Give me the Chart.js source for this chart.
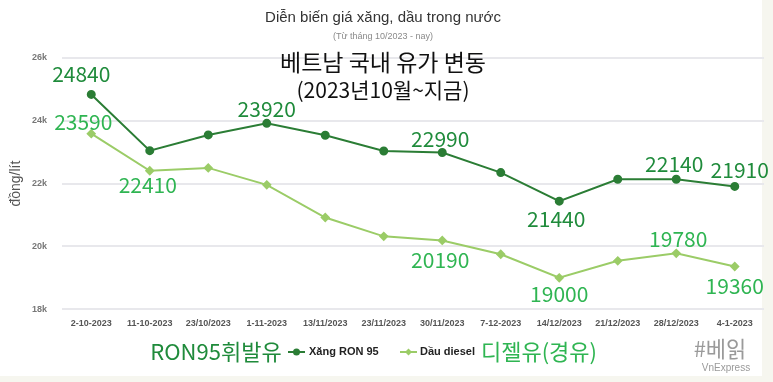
<!DOCTYPE html>
<html><head><meta charset="utf-8">
<script src="https://cdn.jsdelivr.net/npm/chart.js@4.4.1/dist/chart.umd.min.js"></script>
<style>
html,body{margin:0;padding:0;background:#f6f6ef;}
#wrap{position:absolute;left:0;top:0;width:762px;height:376px;background:#fff;}
#c{position:absolute;left:0;top:0;}
</style></head><body>
<div id="wrap"></div>
<canvas id="c" width="773" height="382"></canvas>
<script>
const categories = ['2-10-2023','11-10-2023','23/10/2023','1-11-2023','13/11/2023','23/11/2023','30/11/2023','7-12-2023','14/12/2023','21/12/2023','28/12/2023','4-1-2023'];
const ron95 = [24840, 23050, 23550, 23920, 23540, 23040, 22990, 22350, 21440, 22140, 22140, 21910];
const diesel = [23590, 22410, 22500, 21960, 20920, 20320, 20190, 19750, 19000, 19540, 19780, 19360];
const yTicks = [18000, 20000, 22000, 24000, 26000];
// indices that carry a value label, with label offset from the point
const ronLabels = {0:[-10,-20],3:[0,-14],6:[-2,-13],8:[-3,18],10:[-2,-15],11:[5,-16]};
const dieselLabels = {0:[-8,-12],1:[-2,14],6:[-2,20],8:[0,16],10:[2,-14],11:[0,20]};

const DARK = '#2b7d35', LIGHT = '#9bcc67';
const LBL_DARK = '#1f8b3b', LBL_LIGHT = '#2fb552';
const KFONT = '"Noto Sans CJK KR", "Noto Sans", sans-serif';

const overlay = {
  id: 'overlay',
  afterDatasetsDraw(chart) {
    const ctx = chart.ctx;
    ctx.save();
    ctx.textAlign = 'center';
    ctx.textBaseline = 'middle';
    ctx.font = '21px ' + KFONT;
    const draw = (dsIdx, map, col, arr) => {
      const meta = chart.getDatasetMeta(dsIdx);
      ctx.fillStyle = col;
      Object.keys(map).forEach(k => {
        const p = meta.data[k];
        ctx.fillText(String(arr[k]), p.x + map[k][0], p.y + map[k][1]);
      });
    };
    draw(0, ronLabels, LBL_DARK, ron95);
    draw(1, dieselLabels, LBL_LIGHT, diesel);
    // y axis title
    ctx.save();
    ctx.translate(16, (chart.chartArea.top + chart.chartArea.bottom) / 2);
    ctx.rotate(-Math.PI / 2);
    ctx.fillStyle = '#555';
    ctx.font = '14px "Liberation Sans", Arial, sans-serif';
    ctx.fillText('đồng/lít', 0, 0);
    ctx.restore();
    ctx.fillStyle = '#333';
    ctx.font = '15px "Liberation Sans", Arial, sans-serif';
    ctx.fillText('Diễn biến giá xăng, dầu trong nước', 383, 18);
    ctx.fillStyle = '#8a8a8a';
    ctx.font = '9px "Liberation Sans", Arial, sans-serif';
    ctx.fillText('(Từ tháng 10/2023 - nay)', 383, 37);
    ctx.fillStyle = '#111';
    ctx.font = '23px ' + KFONT;
    ctx.fillText('베트남 국내 유가 변동', 383, 62);
    ctx.font = '21px ' + KFONT;
    ctx.fillText('(2023년10월~지금)', 383, 90);
    const ly = 352;
    ctx.font = '22px ' + KFONT;
    ctx.fillStyle = LBL_DARK;
    ctx.fillText('RON95휘발유', 216, ly);
    ctx.fillStyle = LBL_LIGHT;
    ctx.fillText('디젤유(경유)', 539, ly);
    const marker = (x, col, diamond) => {
      ctx.strokeStyle = col; ctx.lineWidth = 2;
      ctx.beginPath(); ctx.moveTo(x, ly); ctx.lineTo(x + 17, ly); ctx.stroke();
      ctx.fillStyle = col; ctx.beginPath();
      if (diamond) { ctx.moveTo(x+8.5, ly-3.5); ctx.lineTo(x+12, ly); ctx.lineTo(x+8.5, ly+3.5); ctx.lineTo(x+5, ly); ctx.closePath(); }
      else ctx.arc(x + 8.5, ly, 3.5, 0, Math.PI * 2);
      ctx.fill();
    };
    marker(288, DARK, false);
    marker(400, LIGHT, true);
    ctx.textAlign = 'left';
    ctx.fillStyle = '#222';
    ctx.font = 'bold 11px "Liberation Sans", Arial, sans-serif';
    ctx.fillText('Xăng RON 95', 309, ly);
    ctx.fillText('Dầu diesel', 420, ly);
    ctx.textAlign = 'center';
    ctx.fillStyle = '#9a9a9a';
    ctx.font = '22px ' + KFONT;
    ctx.fillText('#베읽', 720, 349);
    ctx.font = '10px "Liberation Sans", Arial, sans-serif';
    ctx.fillText('VnExpress', 726, 368);
    ctx.restore();
  }
};

new Chart(document.getElementById('c'), {
  type: 'line',
  data: {
    labels: categories,
    datasets: [
      { label: 'Xăng RON 95', data: ron95, borderColor: DARK, backgroundColor: DARK, borderWidth: 2, pointRadius: 3.5, pointStyle: 'circle', tension: 0 },
      { label: 'Dầu diesel', data: diesel, borderColor: LIGHT, backgroundColor: LIGHT, borderWidth: 2, pointRadius: 3.5, pointStyle: 'rectRot', tension: 0 }
    ]
  },
  options: {
    responsive: false,
    animation: false,
    layout: { padding: { top: 58, bottom: 52, left: 17, right: 9 } },
    plugins: { legend: { display: false }, title: { display: false }, tooltip: { enabled: false } },
    scales: {
      x: {
        offset: true,
        grid: { display: false },
        border: { display: false },
        ticks: { color: '#555', font: { size: 9, weight: 'bold', family: '"Liberation Sans", Arial, sans-serif' }, maxRotation: 0, autoSkip: false, padding: 1 }
      },
      y: {
        min: 18000, max: 26000,
        afterBuildTicks(ax) { ax.ticks = yTicks.map(v => ({ value: v })); },
        grid: { color: '#e8e8ec', lineWidth: 2, drawTicks: false },
        border: { display: false },
        title: { display: false },
        ticks: { color: '#777', font: { size: 9, weight: 'bold', family: '"Liberation Sans", Arial, sans-serif' }, padding: 15, callback: v => (v / 1000) + 'k' }
      }
    }
  },
  plugins: [overlay]
});
</script></body></html>
